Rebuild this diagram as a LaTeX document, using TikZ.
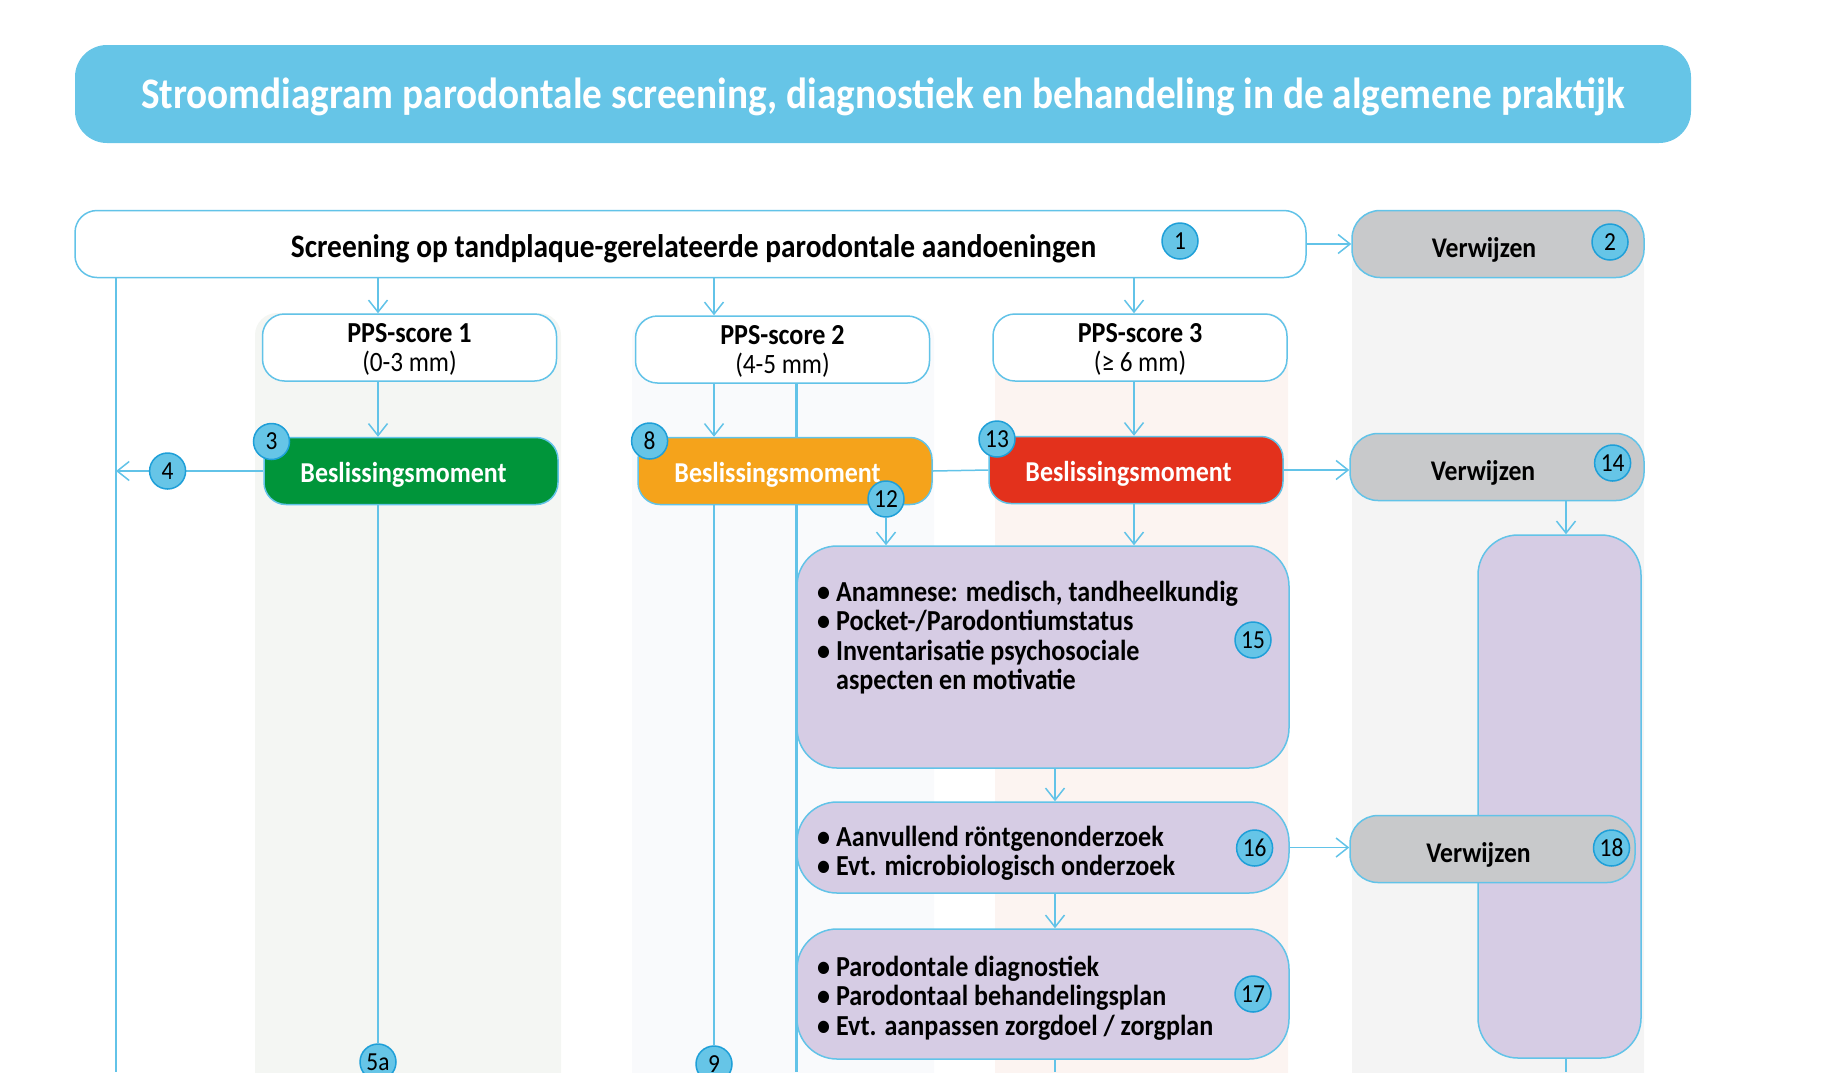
\documentclass[tikz,border=0pt]{standalone}
\usepackage{fontspec}
\setmainfont{Carlito}[FakeStretch=0.9]
\usetikzlibrary{arrows.meta,backgrounds}

\definecolor{lijn}{HTML}{62C3E8}
\definecolor{kopblauw}{HTML}{66C5E7}
\definecolor{badgerand}{HTML}{1E9FD8}
\definecolor{grijs}{HTML}{C8C9CB}
\definecolor{paars}{HTML}{D6CCE4}
\definecolor{groen}{HTML}{00953A}
\definecolor{oranje}{HTML}{F5A31B}
\definecolor{rood}{HTML}{E3311C}
\definecolor{kolgroen}{HTML}{F4F6F3}
\definecolor{kolblauw}{HTML}{F9FAFC}
\definecolor{kolroze}{HTML}{FCF4F1}
\definecolor{kolgrijs}{HTML}{F4F4F4}

\tikzset{
  vak/.style={draw=lijn, line width=1.5pt, rounded corners=22pt, inner sep=0pt},
  kop/.style={fill=kopblauw, rounded corners=32pt, minimum width=1616pt, minimum height=98pt,
    text=white, text height=28pt, text depth=0pt, font=\fontsize{43.6}{43.6}\selectfont\bfseries},
  ppsvak/.style={vak, fill=white, minimum width=294pt, minimum height=67pt, align=center,
    text depth=0pt, font=\fontsize{28}{29.5}\selectfont},
  beslis/.style={vak, minimum width=294pt, minimum height=67pt, text=white,
    text height=22.6pt, text depth=0pt, font=\fontsize{28.8}{28.8}\selectfont\bfseries},
  verwijs/.style={vak, fill=grijs, minimum height=67pt, rounded corners=28pt,
    text height=26pt, text depth=0pt, font=\fontsize{28.5}{28.5}\selectfont\bfseries},
  paarsvak/.style={vak, fill=paars, minimum width=492pt, rounded corners=40pt},
  lijst/.style={anchor=base west, align=left, inner sep=0pt,
    font=\fontsize{29}{29.5}\selectfont\bfseries},
  nr/.style={circle, draw=badgerand, fill=kopblauw, line width=1.5pt, minimum size=36pt,
    inner sep=0pt, font=\fontsize{26}{26}\selectfont},
  pijl/.style={draw=lijn, line width=1.5pt, -{Straight Barb[length=12pt,width=19pt]}},
  lijntje/.style={draw=lijn, line width=1.5pt},
}

\begin{document}
\begin{tikzpicture}[x=1pt,y=-1pt]
  \useasboundingbox (0,0) rectangle (1822,1072);
  \clip (0,0) rectangle (1822,1072);

  % kolommen
  \coordinate (links) at (116,1072);
  \coordinate (k1) at (378,0);
  \coordinate (k2) at (714,0);
  \coordinate (k3) at (1134,0);
  \coordinate (k4) at (1055,0);
  \coordinate (k5) at (1566,0);
  \coordinate (onder) at (0,1072);

  % kop
  \node[kop] (titel) at (883,94)
    {Stroomdiagram parodontale screening, diagnostiek en behandeling in de algemene praktijk};

  % screening
  \node[vak, fill=white, minimum width=1231pt, minimum height=67pt, text height=26pt, text depth=0pt,
    font=\fontsize{32.7}{32.7}\selectfont\bfseries] (screen) at (690.5,244)
    {Screening op tandplaque-gerelateerde parodontale aandoeningen\hspace*{-6pt}};
  \node[verwijs, minimum width=292pt] (verw2) at (1498,244) {Verwijzen\hspace*{28pt}};

  % PPS-scores
  \node[ppsvak] (pps1) at (409.5,347.5) {\fontsize{29}{29.5}\selectfont\textbf{PPS-score 1}\\(0-3 mm)};
  \node[ppsvak] (pps2) at (782.5,349.5) {\fontsize{29}{29.5}\selectfont\textbf{PPS-score 2}\\(4-5 mm)};
  \node[ppsvak] (pps3) at (1140,347.5) {\fontsize{29}{29.5}\selectfont\textbf{PPS-score 3}\\(≥ 6 mm)};

  % beslissingsmomenten
  \node[beslis, fill=groen] (bes3) at (411,471) {Beslissingsmoment\hspace*{15pt}};
  \node[beslis, fill=oranje] (bes8) at (785,471) {Beslissingsmoment\hspace*{15pt}};
  \node[beslis, fill=rood] (bes13) at (1136,470) {Beslissingsmoment\hspace*{15pt}};
  \node[verwijs, minimum width=294pt] (verw14) at (1497,467) {Verwijzen\hspace*{28pt}};

  % onderzoek
  \node[paarsvak, minimum height=222pt] (box15) at (1043,657) {};
  \node[paarsvak, minimum height=91pt] (box16) at (1043,847.5) {};
  \node[paarsvak, minimum height=130pt] (box17) at (1043,994) {};
  \node[vak, fill=paars, rounded corners=40pt, minimum width=163pt, minimum height=523pt] (hoog) at (1559.5,796.5) {};
  \node[verwijs, minimum width=285pt] (verw18) at (1492.5,849) {Verwijzen\hspace*{28pt}};

  \node[lijst] (t15) at (817,689.5) {• Anamnese: medisch, tandheelkundig\\
    • Pocket-/Parodontiumstatus\\
    • Inventarisatie psychosociale\\
    \phantom{• }aspecten en motivatie};
  \node[lijst] (t16) at (817,875.5) {• Aanvullend röntgenonderzoek\\
    • Evt. microbiologisch onderzoek};
  \node[lijst] (t17) at (817,1035) {• Parodontale diagnostiek\\
    • Parodontaal behandelingsplan\\
    • Evt. aanpassen zorgdoel / zorgplan};

  % nummers
  \node[nr] (b5a) at (378,1062) {5a};
  \node[nr] (b9) at (714,1064) {9};

  % verbindingen
  \begin{scope}[on background layer]
    \fill[kolgroen, rounded corners=22pt] (255,313) rectangle (561,1100);
    \fill[kolblauw, rounded corners=22pt] (632,316) rectangle (934,1100);
    \fill[kolroze, rounded corners=22pt] (995,313) rectangle (1288,1100);
    \fill[kolgrijs, rounded corners=22pt] (1352,244) rectangle (1644,1100);
    \draw[lijntje, line width=3pt] (pps2.south -| box15.west) -- (box15.west |- onder);
    \draw[lijntje] (bes8.east) -- (bes13.west);
  \end{scope}

  \draw[pijl] (screen.east) -- (verw2.west);
  \draw[lijntje] (screen.south -| links) -- (links);
  \draw[pijl] (bes3.west) -- (bes3.west -| links);

  \draw[pijl] (screen.south -| k1) -- (pps1.north -| k1);
  \draw[pijl] (pps1.south -| k1) -- (bes3.north -| k1);
  \draw[lijntje] (bes3.south -| k1) -- (b5a);

  \draw[pijl] (screen.south -| k2) -- (pps2.north -| k2);
  \draw[pijl] (pps2.south -| k2) -- (bes8.north -| k2);
  \draw[lijntje] (bes8.south -| k2) -- (b9);

  \draw[pijl] (screen.south -| k3) -- (pps3.north -| k3);
  \draw[pijl] (pps3.south -| k3) -- (bes13.north -| k3);
  \draw[pijl] (bes13.south -| k3) -- (box15.north -| k3);
  \draw[pijl] (bes13.east) -- (bes13.east -| verw14.west);

  \draw[pijl] (verw14.south -| k5) -- (hoog.north -| k5);
  \draw[lijntje] (hoog.south -| k5) -- (k5 |- onder);

  \draw[pijl] (box15.south -| k4) -- (box16.north -| k4);
  \draw[pijl] (box16.south -| k4) -- (box17.north -| k4);
  \draw[lijntje] (box17.south -| k4) -- (k4 |- onder);
  \draw[pijl] (box16.east) -- (box16.east -| verw18.west);

  \node[nr] (b1) at (1180,241) {1};
  \node[nr] (b2) at (1610,242) {2};
  \node[nr] (b3) at (271.5,441.5) {3};
  \node[nr] (b4) at (167.6,471) {4};
  \node[nr] (b8) at (649.6,441) {8};
  \node[nr] (b12) at (886,499) {12};
  \draw[pijl] (b12.south) -- (b12.south |- box15.north);
  \node[nr] (b13) at (997,439) {13};
  \node[nr] (b14) at (1612.6,463) {14};
  \node[nr] (b15) at (1253,640) {15};
  \node[nr] (b16) at (1254.6,848) {16};
  \node[nr] (b17) at (1253,994) {17};
  \node[nr] (b18) at (1611.5,848) {18};
\end{tikzpicture}
\end{document}
